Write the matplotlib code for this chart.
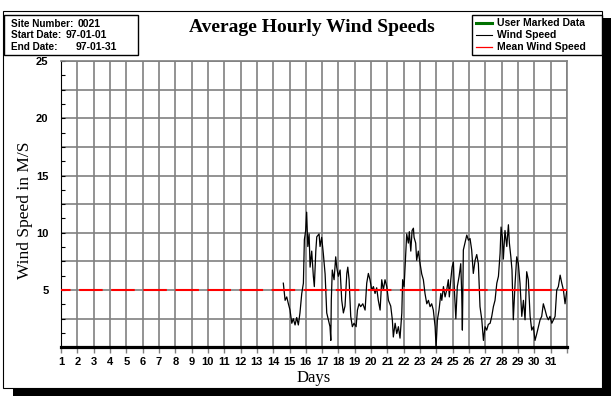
import numpy as np
import matplotlib
matplotlib.use("Agg")
import matplotlib.pyplot as plt
from matplotlib.patches import Rectangle
from matplotlib.lines import Line2D

# hourly wind speed (day of month, m/s)
days = [
    14.62, 14.73, 14.83, 14.93, 15.03, 15.14, 15.23, 15.34, 15.44, 15.54,
    15.64, 15.75, 15.85, 15.91, 15.99, 16.05, 16.12, 16.20, 16.26, 16.36,
    16.46, 16.52, 16.61, 16.67, 16.81, 16.87, 16.97, 17.07, 17.18, 17.28,
    17.38, 17.48, 17.53, 17.56, 17.62, 17.73, 17.83, 17.89, 17.99, 18.10,
    18.20, 18.30, 18.40, 18.51, 18.57, 18.65, 18.75, 18.85, 18.95, 19.08,
    19.16, 19.26, 19.36, 19.49, 19.63, 19.73, 19.83, 19.93, 20.04, 20.14,
    20.24, 20.34, 20.44, 20.55, 20.65, 20.75, 20.85, 20.96, 21.06, 21.20,
    21.30, 21.36, 21.47, 21.57, 21.67, 21.77, 21.88, 21.93, 22.02, 22.12,
    22.18, 22.28, 22.34, 22.43, 22.51, 22.59, 22.63, 22.73, 22.79, 22.89,
    23.00, 23.10, 23.20, 23.30, 23.41, 23.51, 23.61, 23.71, 23.81, 23.92,
    23.98, 24.06, 24.16, 24.27, 24.33, 24.43, 24.53, 24.63, 24.73, 24.79,
    24.88, 24.96, 25.04, 25.10, 25.19, 25.28, 25.39, 25.49, 25.55, 25.59,
    25.65, 25.75, 25.86, 25.96, 26.06, 26.16, 26.26, 26.37, 26.47, 26.57,
    26.67, 26.78, 26.88, 26.98, 27.08, 27.18, 27.29, 27.39, 27.49, 27.59,
    27.70, 27.80, 27.90, 27.96, 28.04, 28.10, 28.20, 28.31, 28.41, 28.47,
    28.56, 28.63, 28.71, 28.82, 28.92, 29.02, 29.12, 29.23, 29.33, 29.43,
    29.53, 29.63, 29.74, 29.84, 29.94, 30.04, 30.15, 30.25, 30.35, 30.45,
    30.55, 30.66, 30.76, 30.86, 30.96, 31.07, 31.17, 31.27, 31.37, 31.47,
    31.58, 31.68, 31.78, 31.88, 31.99,
]
speed = [
    5.6, 4.1, 4.4, 3.8, 3.25, 2.1, 2.5, 1.95, 2.6, 1.95,
    3.0, 4.7, 5.6, 9.4, 10.2, 11.8, 8.8, 9.9, 7.0, 8.4,
    6.2, 5.3, 8.4, 9.65, 9.9, 8.8, 9.6, 8.2, 6.4, 3.0,
    2.4, 1.8, 0.6, 4.1, 6.75, 5.9, 7.9, 7.0, 6.2, 6.75,
    4.1, 3.0, 3.6, 6.45, 7.0, 5.9, 2.7, 1.8, 2.1, 1.8,
    3.25, 3.8, 3.55, 3.8, 3.25, 5.6, 6.45, 5.9, 5.0, 5.3,
    4.7, 5.2, 4.1, 3.25, 5.9, 5.0, 5.9, 5.3, 4.1, 3.6,
    2.4, 0.9, 2.1, 1.2, 1.8, 0.8, 3.0, 5.9, 5.3, 8.2,
    9.9, 9.1, 10.1, 8.4, 10.2, 10.4, 9.6, 9.1, 7.6, 8.4,
    7.3, 6.4, 5.9, 4.7, 3.8, 4.1, 3.55, 3.8, 3.25, 1.8,
    0.0, 2.4, 3.25, 4.7, 4.1, 5.3, 4.4, 5.0, 5.9, 4.4,
    5.9, 7.0, 7.45, 5.0, 2.5, 5.3, 6.2, 7.3, 4.7, 1.5,
    8.5, 9.1, 9.8, 9.35, 9.5, 8.5, 6.45, 7.6, 8.1, 7.3,
    3.55, 2.4, 0.6, 1.8, 1.5, 2.0, 2.1, 2.7, 3.55, 4.1,
    5.6, 6.2, 8.2, 10.5, 9.6, 7.7, 10.2, 8.8, 10.7, 9.1,
    7.9, 6.75, 2.4, 5.6, 7.9, 7.3, 5.6, 2.7, 4.1, 2.4,
    6.6, 5.9, 2.7, 1.5, 1.8, 0.6, 1.2, 1.8, 2.4, 2.7,
    3.8, 3.25, 2.7, 2.4, 2.7, 2.1, 2.4, 2.7, 5.0, 5.3,
    6.3, 5.6, 5.0, 3.8, 5.0,
]
mean_speed = 5.0

day_ticks = list(range(1, 33))
day_labels = [str(d) for d in range(1, 32)] + [""]
y_grid = np.arange(0, 25.01, 2.5)
y_labels = ["" if v % 5 else ("" if v == 0 else f"{v:.0f}") for v in y_grid]
y_minor = np.arange(1.25, 25, 2.5)

site_info = [("Site Number:", "0021", 78), ("Start Date:", "97-01-01", 66),
             ("End Date:", "97-01-31", 76)]
legend_items = [("User Marked Data", "#007000", 2.2),
                ("Wind Speed", "black", 0.8),
                ("Mean Wind Speed", "#ff0000", 0.9)]

W, H = 611, 396
BOLD = dict(family="Liberation Sans", weight="bold")
SERIF = "Liberation Serif"
GRID = "#808080"


def fx(x):
    return x / W


def fy(y):
    return 1 - y / H


fig = plt.figure(figsize=(W / 100, H / 100), dpi=100)

# window frame with drop shadow
fig.add_artist(Rectangle((fx(13), 0), fx(611) - fx(13), fy(18), transform=fig.transFigure,
                         facecolor="black", edgecolor="none", zorder=-10))
fig.add_artist(Rectangle((fx(3), fy(388)), fx(602) - fx(3), fy(11) - fy(388),
                         transform=fig.transFigure, facecolor="white",
                         edgecolor="black", linewidth=0.8, zorder=-9))

ax = fig.add_axes([fx(61), fy(347.3), fx(567) - fx(61), fy(61) - fy(347.3)])
ax.set_facecolor("none")

ax.plot(days, speed, color="black", lw=0.9, zorder=3)
ax.axhline(mean_speed, color="#ff0000", lw=1.5,
           linestyle=(6.7, (11.3, 4.1)), zorder=4)

ax.set_xlim(1, 32)
ax.set_ylim(0, 25)
ax.set_xticks(day_ticks)
ax.set_xticklabels(day_labels, fontsize=8, **BOLD)
ax.set_yticks(y_grid)
ax.set_yticklabels(y_labels, fontsize=8, **BOLD)
ax.set_yticks(y_minor, minor=True)
ax.tick_params(axis="x", direction="out", length=4, width=1.0, color=GRID, pad=3)
ax.tick_params(axis="y", which="both", direction="in", length=3, width=0.8,
               color="black", pad=9)
ax.grid(True, which="major", color=GRID, lw=1.2)
ax.set_axisbelow(True)

ax.spines["bottom"].set_linewidth(2.3)
ax.spines["bottom"].set_color("black")
ax.spines["left"].set_linewidth(0.8)
for s in ("top", "right"):
    ax.spines[s].set_color(GRID)
    ax.spines[s].set_linewidth(1.2)

ax.set_xlabel("Days", family=SERIF, fontsize=12)
ax.xaxis.set_label_coords(0.5, -0.078)
ax.set_ylabel("Wind Speed in M/S", family=SERIF, fontsize=12.5)
ax.yaxis.set_label_coords(-0.056, 0.48)

fig.text(fx(311.5), fy(28), "Average Hourly Wind Speeds", ha="center", va="center",
         family=SERIF, weight="bold", fontsize=14)

# info box
fig.add_artist(Rectangle((fx(4), fy(55)), fx(138) - fx(4), fy(15) - fy(55),
                         transform=fig.transFigure, facecolor="white",
                         edgecolor="black", linewidth=1.0))
for i, (lab, val, vx) in enumerate(site_info):
    yy = fy(24 + i * 11.5)
    fig.text(fx(11), yy, lab, va="center", fontsize=7.2, **BOLD)
    fig.text(fx(vx), yy, val, va="center", fontsize=7.5, **BOLD)

# legend box
fig.add_artist(Rectangle((fx(472), fy(55)), fx(602) - fx(472), fy(15) - fy(55),
                         transform=fig.transFigure, facecolor="white",
                         edgecolor="black", linewidth=1.0))
for i, (lab, col, lw) in enumerate(legend_items):
    yy = fy(23 + i * 12)
    fig.add_artist(Line2D([fx(476), fx(492)], [yy, yy], transform=fig.transFigure,
                          color=col, lw=lw))
    fig.text(fx(497), yy, lab, va="center", fontsize=7.5, **BOLD)

fig.savefig("out.png", dpi=100)
